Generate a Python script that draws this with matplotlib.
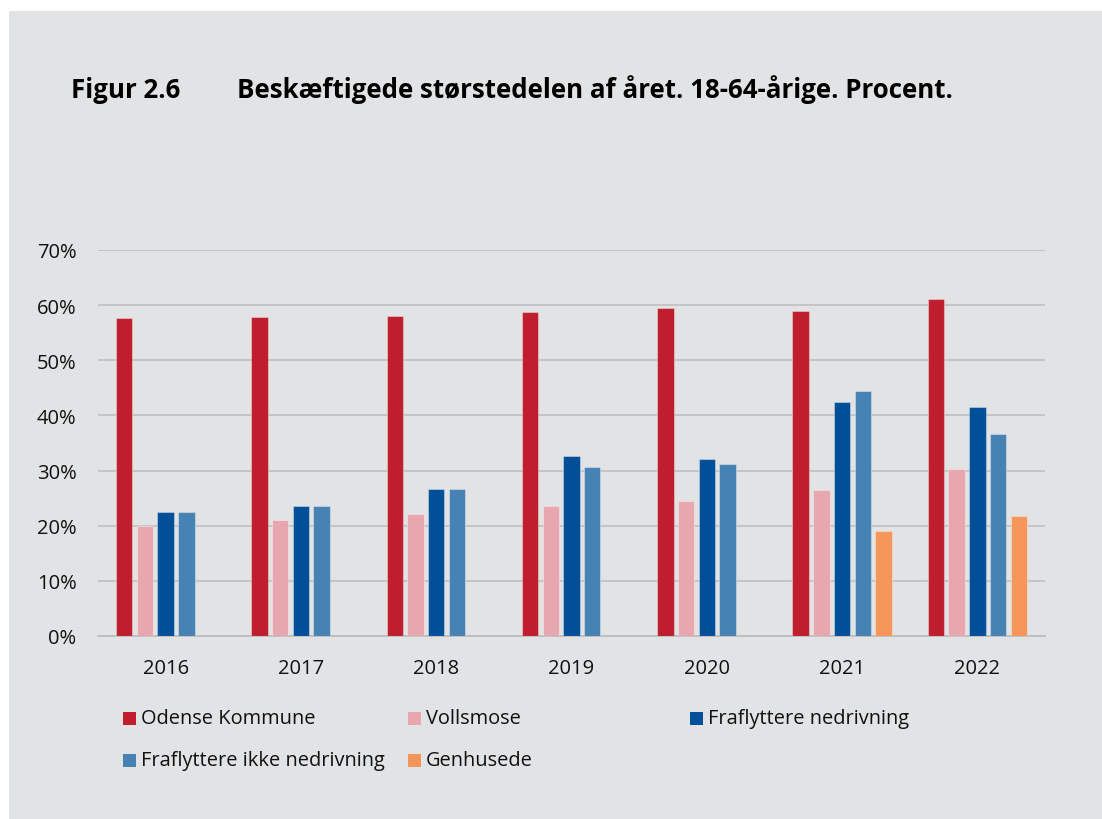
import numpy as np
import matplotlib.pyplot as plt
from matplotlib.patches import Rectangle

years = ['2016', '2017', '2018', '2019', '2020', '2021', '2022']
series_names = ['Odense Kommune', 'Vollsmose', 'Fraflyttere nedrivning',
                'Fraflyttere ikke nedrivning', 'Genhusede']
odense = [57.7, 57.9, 58.0, 58.8, 59.5, 59.0, 61.1]
vollsmose = [19.9, 21.0, 22.1, 23.6, 24.5, 26.5, 30.2]
fra_nedriv = [22.5, 23.6, 26.7, 32.6, 32.1, 42.4, 41.5]
fra_ikke = [22.5, 23.6, 26.7, 30.6, 31.2, 44.4, 36.7]
genhusede = [np.nan, np.nan, np.nan, np.nan, np.nan, 19.0, 21.7]
colors = ['#be1e2d', '#e8a7ae', '#004f98', '#4682b4', '#f4955a']

bg = '#e2e3e5'
plt.rcParams['font.family'] = ['Open Sans', 'DejaVu Sans']

W, H = 1102, 820
fig = plt.figure(figsize=(W / 100, H / 100), dpi=100)
fig.patch.set_facecolor('white')
fig.add_artist(Rectangle((9 / W, 0), 1 - 9 / W, 1 - 12 / H,
                         transform=fig.transFigure, facecolor=bg,
                         edgecolor='none', zorder=0))

ax = fig.add_axes([98 / W, 1 - 637 / H, (1045 - 98) / W, (637 - 251) / H])
ax.set_facecolor(bg)

x = np.arange(len(years))
all_series = [odense, vollsmose, fra_nedriv, fra_ikke, genhusede]
stride = 0.153
width = 0.122
for i, vals in enumerate(all_series):
    ax.bar(x + (i - 2) * stride, vals, width, color=colors[i],
           edgecolor=(1, 1, 1, 0.35), linewidth=0.8, zorder=3)

ax.set_xlim(-0.5, len(years) - 0.5)
ax.set_ylim(0, 70)
ax.set_yticks(np.arange(0, 71, 10))
ax.set_yticklabels([f'{v}%' for v in range(0, 71, 10)])
ax.set_xticks(x)
ax.set_xticklabels(years)
ax.tick_params(axis='both', length=0, labelsize=14.5, colors='#111111')
ax.tick_params(axis='x', pad=16)
ax.tick_params(axis='y', pad=15.5)
ax.grid(axis='y', color='#bdbdbf', linewidth=1.1, zorder=0)
for s in ['top', 'right', 'left']:
    ax.spines[s].set_visible(False)
ax.spines['bottom'].set_color('#bdbdbf')
ax.spines['bottom'].set_linewidth(1.3)

# title
fig.text(71 / W, 1 - 90 / H, 'Figur 2.6', fontsize=18.6, fontweight='bold',
         va='center', ha='left', color='#000000')
fig.text(237 / W, 1 - 90 / H,
         'Beskæftigede størstedelen af året. 18-64-årige. Procent.',
         fontsize=18.6, fontweight='bold', va='center', ha='left',
         color='#000000')

# legend (row-major, fixed column positions)
leg_pos = [(123, 719), (408, 719), (690, 719), (123, 761), (408, 761)]
for (lx, ly), name, c in zip(leg_pos, series_names, colors):
    fig.add_artist(Rectangle((lx / W, 1 - (ly + 6.5) / H), 13 / W, 13 / H,
                             transform=fig.transFigure, facecolor=c,
                             edgecolor='none'))
    fig.text((lx + 18) / W, 1 - ly / H, name, fontsize=14.4,
             va='center', ha='left', color='#111111')

fig.savefig('out.png', dpi=100, facecolor=fig.get_facecolor())
